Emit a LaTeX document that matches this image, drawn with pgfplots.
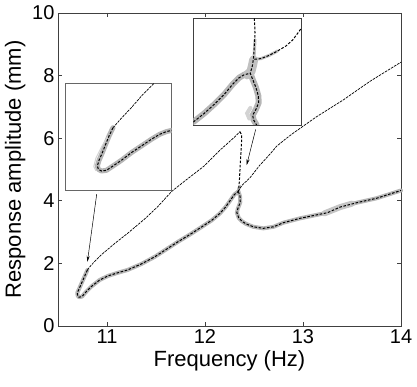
\documentclass[border=0pt]{standalone}
\usepackage{fontspec}
\setmainfont{Liberation Sans}
\usepackage{pgfplots}
\pgfplotsset{compat=1.18}
\usetikzlibrary{arrows.meta}

\definecolor{band}{RGB}{182,182,182}
\definecolor{axgray}{RGB}{64,64,64}

\tikzset{
  bandline/.style={band, line width=4pt, line cap=round, line join=round},
  thickdash/.style={black, line width=1pt, dash pattern=on 2.6pt off 1.6pt},
  thindash/.style={black, line width=0.7pt, dash pattern=on 2.6pt off 1pt},
}

\begin{document}
\begin{tikzpicture}
\begin{axis}[
    at={(0,0)}, anchor=south west,
    scale only axis, width=343pt, height=313pt,
    xmin=10.5, xmax=14, ymin=0, ymax=10,
    xtick={11,12,13,14}, ytick={0,2,4,6,8,10},
    tick align=inside, major tick length=4pt,
    axis line style={axgray, line width=0.6pt},
    every tick/.style={axgray, line width=0.6pt},
    tick label style={font=\fontsize{20}{24}\selectfont},
    label style={font=\fontsize{22}{26}\selectfont},
    /pgf/number format/assume math mode=true,
    xlabel={Frequency (Hz)},
    ylabel={Response amplitude (mm)},
    clip=false,
]
% lower branch, samples band
\addplot[bandline] coordinates {
 (10.80,1.79) (10.755,1.47) (10.72,1.22) (10.697,1.06) (10.70,0.97)
 (10.714,0.92) (10.745,0.94) (10.789,1.10) (10.84,1.26) (10.925,1.47)
 (11.01,1.60) (11.11,1.70) (11.21,1.79) (11.35,1.98) (11.487,2.21)
 (11.62,2.48) (11.724,2.69) (11.85,2.93) (11.983,3.20) (12.07,3.38)
 (12.153,3.60) (12.21,3.80) (12.255,4.00) (12.30,4.20) (12.34,4.30)
};
\addplot[bandline] coordinates {
 (12.34,4.30) (12.357,4.15) (12.36,3.95) (12.335,3.75) (12.325,3.62)
 (12.345,3.45) (12.38,3.34) (12.42,3.26) (12.493,3.17) (12.595,3.12)
 (12.70,3.17) (12.80,3.30) (12.97,3.44) (13.14,3.55) (13.25,3.62)
 (13.38,3.80) (13.55,3.94) (13.75,4.08) (14.0,4.33)
};
\addplot[band!80, line width=6pt, line cap=round] coordinates {
 (13.22,3.60) (13.38,3.80) (13.50,3.91)
};
\addplot[band, line width=3pt, line cap=round] coordinates {
 (12.34,4.30) (12.345,4.40) (12.357,4.46)
};
% lower branch, dashed mean
\addplot[thickdash] coordinates {
 (10.80,1.79) (10.755,1.47) (10.72,1.22) (10.697,1.06) (10.70,0.97)
 (10.714,0.92) (10.745,0.94) (10.789,1.10) (10.84,1.26) (10.925,1.47)
 (11.01,1.60) (11.11,1.70) (11.21,1.79) (11.35,1.98) (11.487,2.21)
 (11.62,2.48) (11.724,2.69) (11.85,2.93) (11.983,3.20) (12.07,3.38)
 (12.153,3.60) (12.21,3.80) (12.255,4.00) (12.30,4.20) (12.34,4.30)
};
\addplot[thickdash] coordinates {
 (12.34,4.30) (12.357,4.15) (12.36,3.95) (12.335,3.75) (12.325,3.62)
 (12.345,3.45) (12.38,3.34) (12.42,3.26) (12.493,3.17) (12.595,3.12)
 (12.70,3.17) (12.80,3.30) (12.97,3.44) (13.14,3.55) (13.25,3.62)
 (13.38,3.80) (13.55,3.94) (13.75,4.08) (14.0,4.33)
};
% upper branch
\addplot[thindash] coordinates {
 (10.80,1.79) (10.84,1.95) (10.94,2.27) (11.08,2.64) (11.21,2.96)
 (11.385,3.42) (11.52,3.82) (11.66,4.30) (11.813,4.68) (11.983,5.09)
 (12.153,5.62) (12.289,6.00) (12.357,6.21)
};
\addplot[thickdash] coordinates {
 (12.357,6.21) (12.374,6.10) (12.372,5.80) (12.367,5.52) (12.36,5.20)
 (12.357,4.98) (12.35,4.60) (12.345,4.40) (12.34,4.30)
};
\addplot[thindash] coordinates {
 (12.34,4.30) (12.357,4.40) (12.385,4.52) (12.42,4.62) (12.46,4.74)
 (12.50,4.90) (12.56,5.14) (12.66,5.48) (12.73,5.74) (12.82,5.97)
 (12.90,6.16) (13.14,6.69) (13.41,7.22) (13.68,7.81) (14.0,8.43)
};
% pointers to the insets
\draw[-{Stealth[length=6pt,width=3pt]}, line width=0.5pt]
  (axis cs:10.895,4.21) -- (axis cs:10.80,2.05);
\draw[-{Stealth[length=6pt,width=3pt]}, line width=0.5pt]
  (axis cs:12.517,6.28) -- (axis cs:12.425,5.14);
\end{axis}

% left inset: zoom on the turning point
\begin{axis}[
    at={(7pt,136pt)}, anchor=south west,
    scale only axis, width=106.7pt, height=106.7pt,
    xmin=0, xmax=1, ymin=0, ymax=1,
    xtick=\empty, ytick=\empty,
    axis line style={axgray!80, line width=0.6pt},
    axis background/.style={fill=white},
]
\addplot[band, line width=5pt, line cap=round, line join=round] coordinates {
 (0.45,0.584) (0.4125,0.506) (0.381,0.428) (0.35,0.35) (0.319,0.278)
 (0.303,0.225) (0.313,0.194) (0.341,0.178) (0.3875,0.184) (0.45,0.225)
 (0.528,0.278) (0.622,0.35) (0.716,0.4125) (0.809,0.475) (0.8875,0.522)
 (0.95,0.547) (1.0,0.559)
};
\addplot[band!60, line width=1pt] coordinates {
 (0.40,0.50) (0.34,0.40) (0.29,0.30) (0.27,0.22) (0.29,0.18)
};
\addplot[thindash] coordinates {
 (0.831,0.997) (0.731,0.897) (0.622,0.772) (0.528,0.672) (0.45,0.584)
};
\addplot[thickdash] coordinates {
 (0.45,0.584) (0.4125,0.506) (0.381,0.428) (0.35,0.35) (0.319,0.278)
 (0.303,0.225) (0.313,0.194) (0.341,0.178) (0.3875,0.184) (0.45,0.225)
 (0.528,0.278) (0.622,0.35) (0.716,0.4125) (0.809,0.475) (0.8875,0.522)
 (0.95,0.547) (1.0,0.559)
};
\end{axis}

% right inset: zoom on the junction
\begin{axis}[
    at={(135.3pt,201pt)}, anchor=south west,
    scale only axis, width=107.7pt, height=106.7pt,
    xmin=0, xmax=1, ymin=0, ymax=1,
    xtick=\empty, ytick=\empty,
    axis line style={axgray, line width=0.6pt},
    axis background/.style={fill=white},
]
\addplot[band, line width=6pt, line cap=round, line join=round] coordinates {
 (0.0,0.028) (0.102,0.109) (0.195,0.194) (0.288,0.2875) (0.365,0.381)
 (0.427,0.444) (0.474,0.472) (0.529,0.484)
};
\addplot[band, line width=6pt, line cap=round, line join=round] coordinates {
 (0.529,0.484) (0.551,0.428) (0.582,0.35) (0.604,0.272) (0.607,0.209)
 (0.582,0.147) (0.551,0.091) (0.560,0.047) (0.588,0.0)
};
\addplot[band!85, line width=9pt, line cap=round, line join=round] coordinates {
 (0.50,0.47) (0.535,0.50) (0.55,0.56) (0.56,0.61)
};
\addplot[band!85, line width=3pt, line cap=round] coordinates {
 (0.56,0.58) (0.567,0.68) (0.573,0.80)
};
\addplot[band!85, line width=3pt, line cap=round] coordinates {
 (0.567,0.616) (0.628,0.622) (0.706,0.653) (0.783,0.694)
};
\addplot[band!60, line width=4pt, line cap=round] coordinates {
 (0.53,0.16) (0.50,0.11) (0.52,0.06)
};
\addplot[thickdash] coordinates {
 (0.567,1.0) (0.573,0.866) (0.567,0.741) (0.560,0.631) (0.548,0.553)
 (0.529,0.484) (0.551,0.428) (0.582,0.35) (0.604,0.272) (0.607,0.209)
 (0.582,0.147) (0.551,0.091) (0.560,0.047) (0.588,0.0)
};
\addplot[thickdash] coordinates {
 (0.567,0.616) (0.628,0.622) (0.706,0.653) (0.783,0.694) (0.861,0.741)
 (0.923,0.797) (0.969,0.859) (1.0,0.903)
};
\addplot[thickdash] coordinates {
 (0.0,0.028) (0.102,0.109) (0.195,0.194) (0.288,0.2875) (0.365,0.381)
 (0.427,0.444) (0.474,0.472) (0.529,0.484)
};
\end{axis}

\pgfresetboundingbox
\useasboundingbox (-58pt,-61pt) rectangle (359pt,326pt);
\end{tikzpicture}
\end{document}
